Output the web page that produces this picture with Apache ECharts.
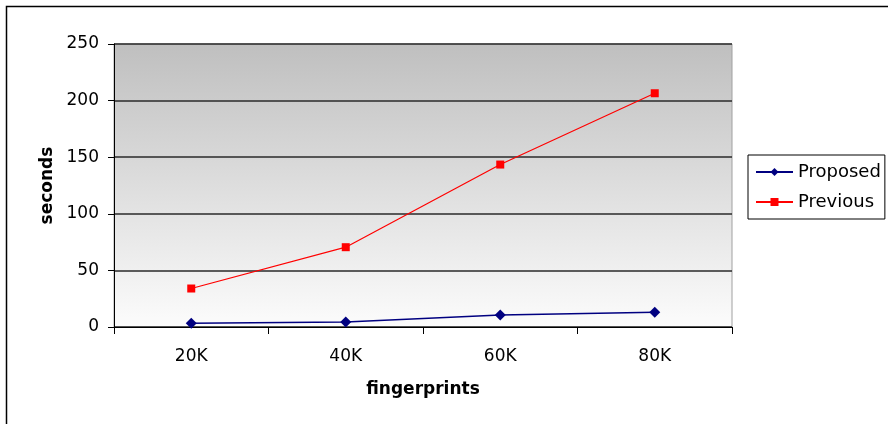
<!DOCTYPE html>
<html>
<head>
<meta charset="utf-8">
<script src="https://cdn.jsdelivr.net/npm/echarts@6/dist/echarts.min.js"></script>
<style>
  html, body { margin: 0; padding: 0; background: #fff; }
  #chart { width: 888px; height: 424px; }
</style>
</head>
<body>
<div id="chart"></div>
<script>
// Run time (seconds) against number of fingerprints
const categories = ['20K', '40K', '60K', '80K'];
const proposed = [3.3, 4.4, 10.6, 13];
const previous = [34, 70.5, 143.5, 206.5];
const yTicks = { min: 0, max: 250, interval: 50 };

const chart = echarts.init(document.getElementById('chart'), null, { renderer: 'canvas' });

const tickFont = { fontFamily: 'DejaVu Sans', fontSize: 17, color: '#000' };
const nameFont = { fontFamily: 'DejaVu Sans', fontSize: 17, fontWeight: 'bold', color: '#000' };

chart.setOption({
  backgroundColor: '#fff',
  animation: false,
  graphic: [{
    type: 'rect',
    shape: { x: 6.5, y: 6.5, width: 920, height: 460 },
    style: { fill: 'none', stroke: '#000', lineWidth: 1.5 },
    silent: true,
    z: -10
  }],
  grid: {
    left: 114, top: 44, right: 156, bottom: 97,
    show: true,
    borderColor: '#a0a0a0',
    borderWidth: 1,
    backgroundColor: {
      type: 'linear', x: 0, y: 0, x2: 0, y2: 1,
      colorStops: [
        { offset: 0, color: '#bfbfbf' },
        { offset: 1, color: '#fcfcfc' }
      ]
    }
  },
  legend: {
    orient: 'vertical',
    left: 748, top: 155,
    padding: [8, 4, 8, 7],
    itemGap: 12,
    itemWidth: 37,
    itemHeight: 10,
    borderColor: '#000',
    borderWidth: 1,
    backgroundColor: '#fff',
    textStyle: { fontFamily: 'DejaVu Sans', fontSize: 18, color: '#000' },
    data: ['Proposed', 'Previous']
  },
  xAxis: {
    type: 'category',
    data: categories,
    boundaryGap: true,
    name: 'fingerprints',
    nameLocation: 'middle',
    nameGap: 54,
    nameTextStyle: nameFont,
    axisLine: { lineStyle: { color: '#000', width: 1 } },
    axisTick: { show: true, length: 7, inside: false, lineStyle: { color: '#000' } },
    axisLabel: Object.assign({ margin: 21 }, tickFont),
    splitLine: { show: false }
  },
  yAxis: {
    type: 'value',
    min: yTicks.min, max: yTicks.max, interval: yTicks.interval,
    name: 'seconds',
    nameLocation: 'middle',
    nameGap: 58,
    nameTextStyle: nameFont,
    axisLine: { show: true, lineStyle: { color: '#000', width: 1 } },
    axisTick: { show: true, length: 6, lineStyle: { color: '#000' } },
    axisLabel: Object.assign({ margin: 15, padding: [6, 0, 0, 0] }, tickFont),
    splitLine: { show: true, lineStyle: { color: '#2a2a2a', width: 1.5 } }
  },
  series: [
    {
      name: 'Proposed',
      type: 'line',
      data: proposed,
      symbol: 'diamond',
      symbolSize: 11,
      showAllSymbol: true,
      lineStyle: { color: '#000080', width: 1.5 },
      itemStyle: { color: '#000080' },
      z: 3
    },
    {
      name: 'Previous',
      type: 'line',
      data: previous,
      symbol: 'rect',
      symbolSize: 8,
      showAllSymbol: true,
      lineStyle: { color: '#ff0000', width: 1.2 },
      itemStyle: { color: '#ff0000' },
      z: 3
    }
  ]
});
</script>
</body>
</html>
